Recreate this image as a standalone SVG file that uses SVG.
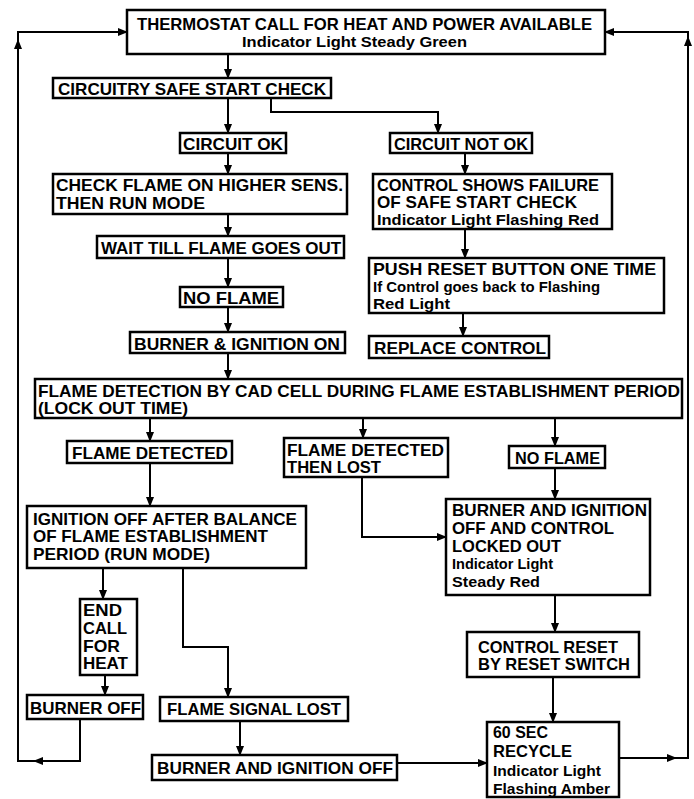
<svg xmlns="http://www.w3.org/2000/svg" width="694" height="799" viewBox="0 0 694 799">
<defs>
<marker id="ah" markerUnits="userSpaceOnUse" markerWidth="10" markerHeight="8" refX="9" refY="4" orient="auto">
<path d="M0,0 L10,4 L0,8 z" fill="#000"/>
</marker>
<style>
.box{fill:#fff;stroke:#000;stroke-width:2.5}
.t{font-family:"Liberation Sans",Arial,sans-serif;font-weight:bold;font-size:16.5px;fill:#000}
.s{font-size:15px}
.c{fill:none;stroke:#000;stroke-width:2}
.a{marker-end:url(#ah)}
</style>
</defs>
<rect width="694" height="799" fill="#fff"/>
<g id="connectors">
<path class="c a" d="M228,54 V78"/>
<path class="c a" d="M228,98 V133"/>
<path class="c a" d="M271,98 V112 H438 V133"/>
<path class="c a" d="M228,153 V174"/>
<path class="c a" d="M228,214 V236"/>
<path class="c a" d="M228,258 V287"/>
<path class="c a" d="M228,307 V332"/>
<path class="c a" d="M228,353 V379"/>
<path class="c a" d="M465,153 V174"/>
<path class="c a" d="M465,229 V258"/>
<path class="c a" d="M463,313 V336"/>
<path class="c a" d="M150,418 V441"/>
<path class="c a" d="M363,418 V438"/>
<path class="c a" d="M555,418 V446"/>
<path class="c a" d="M150,463 V506"/>
<path class="c a" d="M362,477 V537 H446"/>
<path class="c a" d="M555,468 V499"/>
<path class="c a" d="M103,568 V599"/>
<path class="c a" d="M105,675 V695"/>
<path class="c a" d="M183,568 V647 H228 V697"/>
<path class="c a" d="M80,719 V761 H34"/>
<path class="c a" d="M34,761 H18 V40"/>
<path class="c a" d="M18,40 V32 H127"/>
<path class="c a" d="M240,721 V755"/>
<path class="c a" d="M397,763 H487"/>
<path class="c a" d="M555,595 V632"/>
<path class="c a" d="M553,677 V722"/>
<path class="c a" d="M619,758 H676"/>
<path class="c a" d="M676,758 H688 V37"/>
<path class="c a" d="M688,37 V32 H605"/>
</g>
<g id="thermostat">
<rect class="box" x="127" y="10" width="478" height="44"/>
<text class="t" x="137" y="30" textLength="455" lengthAdjust="spacingAndGlyphs">THERMOSTAT CALL FOR HEAT AND POWER AVAILABLE</text>
<text class="t s" x="242" y="47" textLength="225" lengthAdjust="spacingAndGlyphs">Indicator Light Steady Green</text>
</g>
<g id="circuitry">
<rect class="box" x="53" y="78" width="278" height="20"/>
<text class="t" x="58" y="95" textLength="268" lengthAdjust="spacingAndGlyphs">CIRCUITRY SAFE START CHECK</text>
</g>
<g id="circuit-ok">
<rect class="box" x="180" y="133" width="106" height="20"/>
<text class="t" x="183" y="150" textLength="100" lengthAdjust="spacingAndGlyphs">CIRCUIT OK</text>
</g>
<g id="circuit-not-ok">
<rect class="box" x="390" y="133" width="142" height="20"/>
<text class="t" x="394" y="150" textLength="134" lengthAdjust="spacingAndGlyphs">CIRCUIT NOT OK</text>
</g>
<g id="check-flame">
<rect class="box" x="53" y="174" width="294" height="40"/>
<text class="t" x="56" y="191" textLength="287" lengthAdjust="spacingAndGlyphs">CHECK FLAME ON HIGHER SENS.</text>
<text class="t" x="56" y="209" textLength="149" lengthAdjust="spacingAndGlyphs">THEN RUN MODE</text>
</g>
<g id="control-shows">
<rect class="box" x="373" y="174" width="239" height="55"/>
<text class="t" x="377" y="191" textLength="222" lengthAdjust="spacingAndGlyphs">CONTROL SHOWS FAILURE</text>
<text class="t" x="377" y="208" textLength="200" lengthAdjust="spacingAndGlyphs">OF SAFE START CHECK</text>
<text class="t s" x="377" y="225" textLength="222" lengthAdjust="spacingAndGlyphs">Indicator Light Flashing Red</text>
</g>
<g id="wait-till">
<rect class="box" x="97" y="236" width="247" height="22"/>
<text class="t" x="101" y="254" textLength="240" lengthAdjust="spacingAndGlyphs">WAIT TILL FLAME GOES OUT</text>
</g>
<g id="push-reset">
<rect class="box" x="369" y="258" width="295" height="55"/>
<text class="t" x="373" y="275" textLength="283" lengthAdjust="spacingAndGlyphs">PUSH RESET BUTTON ONE TIME</text>
<text class="t s" x="373" y="292" textLength="227" lengthAdjust="spacingAndGlyphs">If Control goes back to Flashing</text>
<text class="t s" x="373" y="309" textLength="77" lengthAdjust="spacingAndGlyphs">Red Light</text>
</g>
<g id="no-flame-1">
<rect class="box" x="180" y="287" width="103" height="20"/>
<text class="t" x="183" y="304" textLength="96" lengthAdjust="spacingAndGlyphs">NO FLAME</text>
</g>
<g id="burner-ignition-on">
<rect class="box" x="130" y="332" width="215" height="21"/>
<text class="t" x="134" y="350" textLength="206" lengthAdjust="spacingAndGlyphs">BURNER &amp; IGNITION ON</text>
</g>
<g id="replace-control">
<rect class="box" x="369" y="336" width="180" height="22"/>
<text class="t" x="374" y="354" textLength="172" lengthAdjust="spacingAndGlyphs">REPLACE CONTROL</text>
</g>
<g id="flame-detection">
<rect class="box" x="35" y="379" width="647" height="39"/>
<text class="t" x="38" y="397" textLength="642" lengthAdjust="spacingAndGlyphs">FLAME DETECTION BY CAD CELL DURING FLAME ESTABLISHMENT PERIOD</text>
<text class="t" x="38" y="414" textLength="150" lengthAdjust="spacingAndGlyphs">(LOCK OUT TIME)</text>
</g>
<g id="flame-detected">
<rect class="box" x="67" y="441" width="165" height="22"/>
<text class="t" x="72" y="459" textLength="156" lengthAdjust="spacingAndGlyphs">FLAME DETECTED</text>
</g>
<g id="detected-then-lost">
<rect class="box" x="284" y="438" width="164" height="39"/>
<text class="t" x="287" y="456" textLength="157" lengthAdjust="spacingAndGlyphs">FLAME DETECTED</text>
<text class="t" x="287" y="473" textLength="94" lengthAdjust="spacingAndGlyphs">THEN LOST</text>
</g>
<g id="no-flame-2">
<rect class="box" x="509" y="446" width="96" height="22"/>
<text class="t" x="515" y="464" textLength="85" lengthAdjust="spacingAndGlyphs">NO FLAME</text>
</g>
<g id="locked-out">
<rect class="box" x="446" y="499" width="204" height="96"/>
<text class="t" x="452" y="516" textLength="195" lengthAdjust="spacingAndGlyphs">BURNER AND IGNITION</text>
<text class="t" x="452" y="534" textLength="162" lengthAdjust="spacingAndGlyphs">OFF AND CONTROL</text>
<text class="t" x="452" y="552" textLength="109" lengthAdjust="spacingAndGlyphs">LOCKED OUT</text>
<text class="t s" x="452" y="569" textLength="101" lengthAdjust="spacingAndGlyphs">Indicator Light</text>
<text class="t s" x="452" y="587" textLength="88" lengthAdjust="spacingAndGlyphs">Steady Red</text>
</g>
<g id="ignition-off">
<rect class="box" x="27" y="506" width="279" height="62"/>
<text class="t" x="33" y="525" textLength="264" lengthAdjust="spacingAndGlyphs">IGNITION OFF AFTER BALANCE</text>
<text class="t" x="33" y="542" textLength="235" lengthAdjust="spacingAndGlyphs">OF FLAME ESTABLISHMENT</text>
<text class="t" x="33" y="560" textLength="177" lengthAdjust="spacingAndGlyphs">PERIOD (RUN MODE)</text>
</g>
<g id="end-call">
<rect class="box" x="80" y="599" width="57" height="76"/>
<text class="t" x="83" y="616" textLength="39" lengthAdjust="spacingAndGlyphs">END</text>
<text class="t" x="83" y="634" textLength="44" lengthAdjust="spacingAndGlyphs">CALL</text>
<text class="t" x="83" y="652" textLength="37" lengthAdjust="spacingAndGlyphs">FOR</text>
<text class="t" x="83" y="669" textLength="45" lengthAdjust="spacingAndGlyphs">HEAT</text>
</g>
<g id="burner-off">
<rect class="box" x="27" y="695" width="116" height="24"/>
<text class="t" x="30" y="714" textLength="111" lengthAdjust="spacingAndGlyphs">BURNER OFF</text>
</g>
<g id="flame-signal-lost">
<rect class="box" x="160" y="697" width="188" height="24"/>
<text class="t" x="167" y="715" textLength="174" lengthAdjust="spacingAndGlyphs">FLAME SIGNAL LOST</text>
</g>
<g id="burner-ignition-off">
<rect class="box" x="152" y="755" width="245" height="25"/>
<text class="t" x="157" y="774" textLength="236" lengthAdjust="spacingAndGlyphs">BURNER AND IGNITION OFF</text>
</g>
<g id="control-reset">
<rect class="box" x="467" y="632" width="172" height="45"/>
<text class="t" x="478" y="653" textLength="140" lengthAdjust="spacingAndGlyphs">CONTROL RESET</text>
<text class="t" x="478" y="670" textLength="152" lengthAdjust="spacingAndGlyphs">BY RESET SWITCH</text>
</g>
<g id="recycle">
<rect class="box" x="487" y="722" width="132" height="75"/>
<text class="t" x="493" y="738" textLength="55" lengthAdjust="spacingAndGlyphs">60 SEC</text>
<text class="t" x="493" y="757" textLength="79" lengthAdjust="spacingAndGlyphs">RECYCLE</text>
<text class="t s" x="493" y="776" textLength="108" lengthAdjust="spacingAndGlyphs">Indicator Light</text>
<text class="t s" x="493" y="794" textLength="117" lengthAdjust="spacingAndGlyphs">Flashing Amber</text>
</g>
</svg>
